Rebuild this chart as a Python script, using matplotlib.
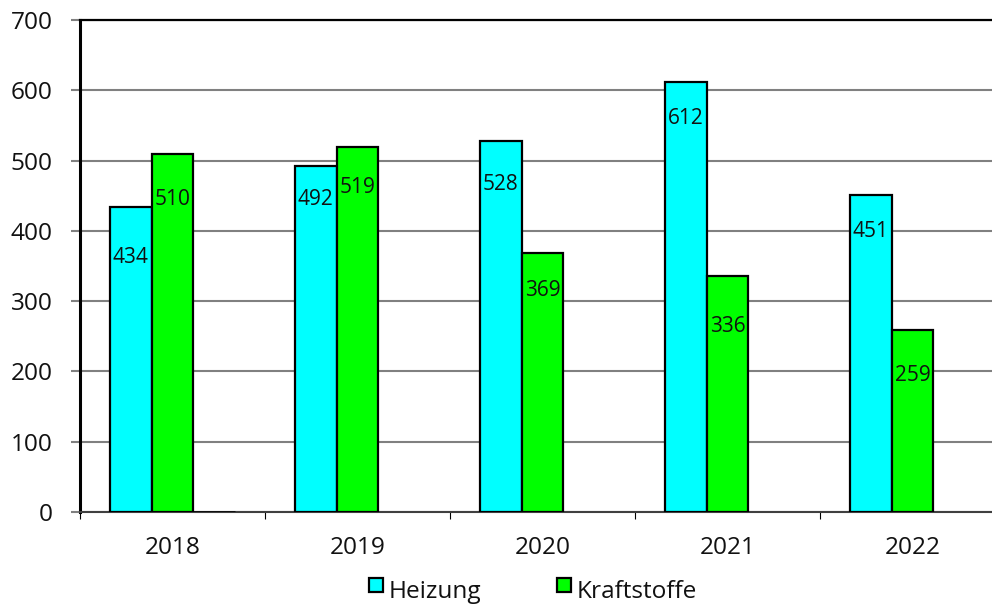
import matplotlib
matplotlib.use("Agg")
import matplotlib.pyplot as plt
from matplotlib.patches import Rectangle
import numpy as np

plt.rcParams['font.family'] = ['Open Sans', 'DejaVu Sans']

years = ["2018", "2019", "2020", "2021", "2022"]
heizung = [434, 492, 528, 612, 451]
kraftstoffe = [510, 519, 369, 336, 259]
other = [0, None, None, None, None]
series_names = ["Heizung", "Kraftstoffe"]
yticks = [0, 100, 200, 300, 400, 500, 600, 700]

# label offsets below bar top (pixels), style only
off_h = [51, 33, 44, 37, 36]
off_k = [46, 40, 38, 51, 46]

C_H = "#00FFFF"
C_K = "#00FF00"

fig = plt.figure(figsize=(9.92, 6.05), dpi=100)
W, H = 992, 605
ax = fig.add_axes([80 / W, (H - 512) / H, 925 / W, 492 / H])

x = np.arange(len(years))
bw = 0.225
px2pt = 72 / 100

ax.bar(x - bw, heizung, bw, color=C_H, edgecolor="black", linewidth=1.6, zorder=3)
ax.bar(x, kraftstoffe, bw, color=C_K, edgecolor="black", linewidth=1.6, zorder=3)
ox = [xi + bw for xi, v in zip(x, other) if v is not None]
ov = [v for v in other if v is not None]
ax.bar(ox, ov, bw, color="white", edgecolor="black", linewidth=1.8, zorder=3)

for xi, v, o in zip(x, heizung, off_h):
    ax.annotate(str(v), (xi - bw, v), xytext=(0, -o * px2pt), textcoords="offset points",
                ha="center", va="center", fontsize=15, color="#111111", zorder=5)
for xi, v, o in zip(x, kraftstoffe, off_k):
    ax.annotate(str(v), (xi, v), xytext=(0, -o * px2pt), textcoords="offset points",
                ha="center", va="center", fontsize=15, color="#111111", zorder=5)

ax.set_xlim(-0.5, len(years) - 0.5)
ax.set_ylim(0, 700)
ax.set_yticks(yticks)
ax.set_yticklabels([str(t) for t in yticks])
ax.set_xticks(x)
ax.set_xticklabels(years)
ax.set_xticks(np.arange(len(years) + 1) - 0.5, minor=True)

ax.yaxis.grid(True, color="#808080", linewidth=1.5, zorder=0)
ax.set_axisbelow(True)

ax.tick_params(axis="y", length=6.5, width=1.5, color="#808080", pad=13,
               labelsize=17.6, labelcolor="#111111")
ax.tick_params(axis="x", which="major", length=0, pad=17, labelsize=17.6, labelcolor="#111111")
ax.tick_params(axis="x", which="minor", length=5, width=0.8, color="black")

ax.spines["left"].set_linewidth(2.2)
ax.spines["left"].set_color("black")
ax.spines["top"].set_linewidth(1.6)
ax.spines["top"].set_color("black")
ax.spines["right"].set_visible(False)
ax.spines["bottom"].set_linewidth(1.5)
ax.spines["bottom"].set_color("#404040")

# legend at the bottom (manual)
base = 598.5
for (rx, tx), name, col in zip([(369, 389), (557, 577)], series_names, [C_H, C_K]):
    fig.patches.append(Rectangle((rx / W, 1 - (base - 6.5) / H), 14 / W, 14 / H,
                                 transform=fig.transFigure,
                                 facecolor=col, edgecolor="black", linewidth=1.6))
    fig.text(tx / W, 1 - base / H, name, ha="left", va="baseline", fontsize=17.6, color="#111111")

fig.savefig("out.png", dpi=100)
